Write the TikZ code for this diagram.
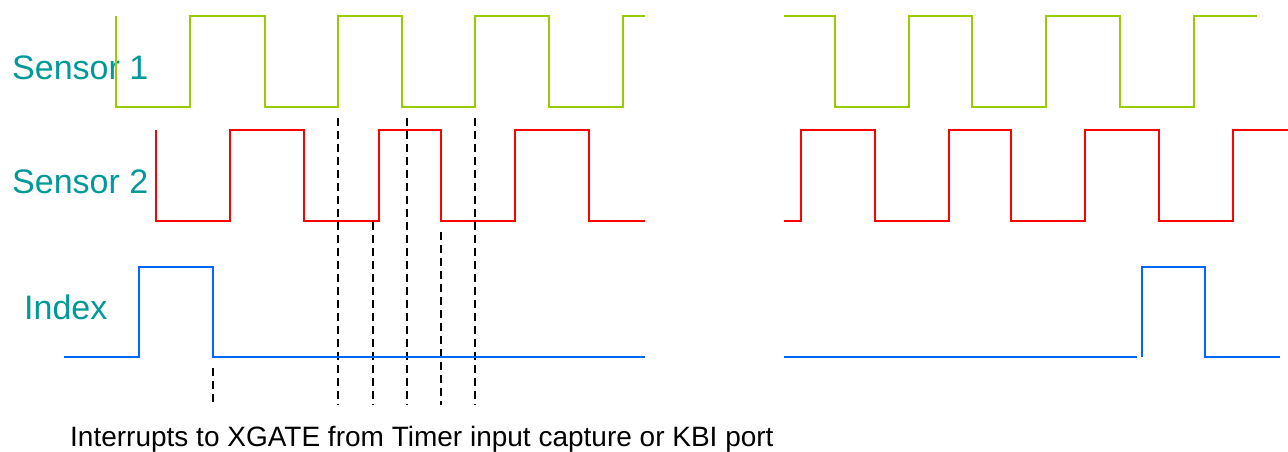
\documentclass[tikz,border=0pt]{standalone}
\usepackage{fontspec}
\setmainfont{Liberation Sans}
\definecolor{labelteal}{RGB}{0,153,153}
\definecolor{sigone}{RGB}{153,204,0}
\definecolor{sigtwo}{RGB}{255,0,0}
\definecolor{sigidx}{RGB}{0,102,255}
\tikzset{
  wave/.style={line width=2pt, line join=miter},
  s1wave/.style={wave, draw=sigone},
  s2wave/.style={wave, draw=sigtwo},
  idxwave/.style={wave, draw=sigidx},
  marker/.style={draw=black, line width=2pt, dash pattern=on 8pt off 5pt},
  siglabel/.style={anchor=base west, inner sep=0pt, text=labelteal,
    font=\fontsize{34}{40}\selectfont},
  caption/.style={anchor=base west, inner sep=0pt, text=black,
    font=\fontsize{28}{33}\selectfont}
}
\begin{document}
\begin{tikzpicture}[x=1pt, y=-1pt]
  \useasboundingbox (0,0) rectangle (1288,451);

  % signal names
  \node[siglabel] (lbl1) at (12,79) {Sensor 1};
  \node[siglabel] (lbl2) at (12,193) {Sensor 2};
  \node[siglabel] (lbl3) at (24,319) {Index};

  % capture instants (drawn under the waveforms)
  \draw[marker] (338,118) -- (338,405);
  \draw[marker] (373,222) -- (373,405);
  \draw[marker] (407,118) -- (407,405);
  \draw[marker] (441,232) -- (441,405);
  \draw[marker] (475,118) -- (475,405);
  \draw[marker] (213,368) -- (213,405);

  % ---- left section ----
  % Sensor 1
  \draw[s1wave] (116,16) -- (116,107) -- (190,107) -- (190,16)
    -- (265,16) -- (265,107) -- (338,107) -- (338,16)
    -- (402,16) -- (402,107) -- (475,107) -- (475,16)
    -- (549,16) -- (549,107) -- (623,107) -- (623,16) -- (645,16);
  % Sensor 2
  \draw[s2wave] (156,130) -- (156,221) -- (230,221) -- (230,130)
    -- (304,130) -- (304,221) -- (379,221) -- (379,130)
    -- (441,130) -- (441,221) -- (515,221) -- (515,130)
    -- (589,130) -- (589,221) -- (645,221);
  % Index
  \draw[idxwave] (64,357) -- (139,357) -- (139,267) -- (213,267)
    -- (213,357) -- (645,357);

  % ---- right section ----
  % Sensor 1
  \draw[s1wave] (784,16) -- (835,16) -- (835,107) -- (909,107)
    -- (909,16) -- (972,16) -- (972,107) -- (1046,107)
    -- (1046,16) -- (1120,16) -- (1120,107) -- (1194,107)
    -- (1194,16) -- (1257,16);
  % Sensor 2
  \draw[s2wave] (784,221) -- (801,221) -- (801,130) -- (875,130)
    -- (875,221) -- (949,221) -- (949,130) -- (1011,130)
    -- (1011,221) -- (1085,221) -- (1085,130) -- (1159,130)
    -- (1159,221) -- (1233,221) -- (1233,130) -- (1288,130);
  % Index
  \draw[idxwave] (784,357) -- (1137,357);
  \draw[idxwave] (1142,357) -- (1142,267) -- (1205,267)
    -- (1205,357) -- (1280,357);

  % caption
  \node[caption] (note) at (70,446)
    {Interrupts to XGATE from Timer input capture or KBI port};
\end{tikzpicture}
\end{document}
